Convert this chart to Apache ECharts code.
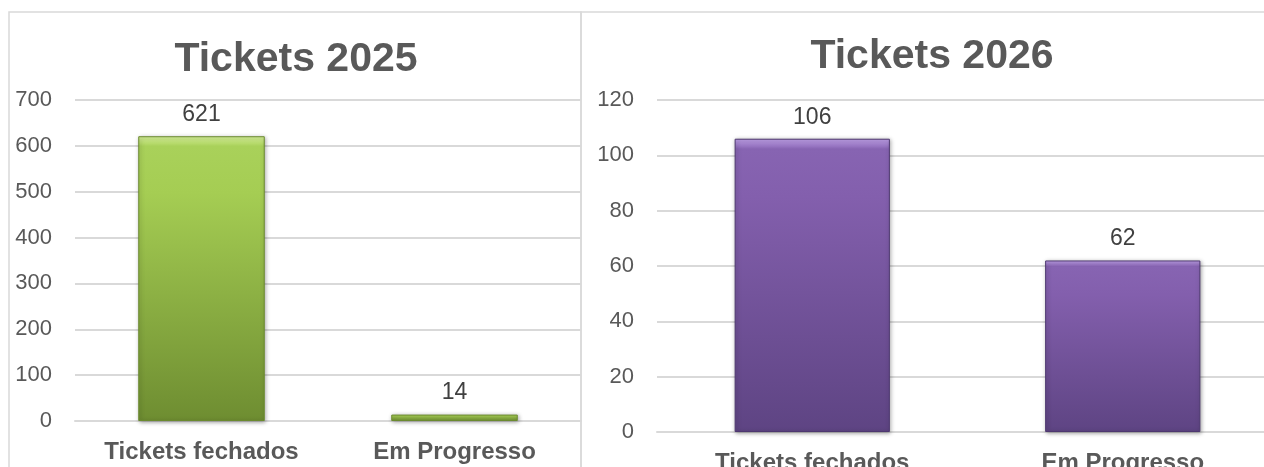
<!DOCTYPE html>
<html>
<head>
<meta charset="utf-8">
<script src="https://cdn.jsdelivr.net/npm/echarts@6/dist/echarts.min.js"></script>
<style>
  html, body { margin: 0; padding: 0; background: #ffffff; }
  #chart { width: 1264px; height: 467px; }
</style>
</head>
<body>
<div id="chart"></div>
<script>
const categories = ['Tickets fechados', 'Em Progresso'];
const values2025 = [621, 14];
const values2026 = [106, 62];
const titles = ['Tickets 2025', 'Tickets 2026'];
const ticks2025 = { min: 0, max: 700, interval: 100 };
const ticks2026 = { min: 0, max: 120, interval: 20 };

const FONT = '"Liberation Sans", Arial, sans-serif';
const TEXT = '#595959';
const GRID = '#d9d9d9';

const green = new echarts.graphic.LinearGradient(0, 0, 0, 1, [
  { offset: 0, color: '#d8f29a' },
  { offset: 0.035, color: '#a9d15a' },
  { offset: 0.2, color: '#a5cd53' },
  { offset: 1, color: '#6e8d31' }
]);
const purple = new echarts.graphic.LinearGradient(0, 0, 0, 1, [
  { offset: 0, color: '#c2a3ec' },
  { offset: 0.035, color: '#8764b2' },
  { offset: 0.2, color: '#835fad' },
  { offset: 1, color: '#5e4483' }
]);

function yAxis(gi, t) {
  return {
    type: 'value', gridIndex: gi, min: t.min, max: t.max, interval: t.interval,
    axisLine: { show: false }, axisTick: { show: false },
    axisLabel: { color: TEXT, fontFamily: FONT, fontSize: 22, margin: 23 },
    splitLine: { lineStyle: { color: GRID, width: 2 } }
  };
}
function xAxis(gi) {
  return {
    type: 'category', gridIndex: gi, data: categories,
    axisLine: { show: true, lineStyle: { color: GRID, width: 2 } },
    axisTick: { show: false },
    axisLabel: { color: TEXT, fontFamily: FONT, fontSize: 24, fontWeight: 'bold', margin: 19, interval: 0 }
  };
}
function barSeries(gi, data, fill, border) {
  return {
    type: 'bar', xAxisIndex: gi, yAxisIndex: gi, data: data, barWidth: '50%',
    itemStyle: {
      color: fill, borderColor: border, borderWidth: 1,
      shadowColor: 'rgba(0,0,0,0.35)', shadowBlur: 4, shadowOffsetX: 1, shadowOffsetY: 1
    },
    label: { show: true, position: 'top', distance: 10, color: '#404040', fontFamily: FONT, fontSize: 23 }
  };
}

const chart = echarts.init(document.getElementById('chart'), null, { renderer: 'canvas' });
chart.setOption({
  animation: false,
  backgroundColor: '#ffffff',
  title: [
    { text: titles[0], left: 291, top: 34, textAlign: 'center',
      textStyle: { color: TEXT, fontFamily: FONT, fontSize: 41, fontWeight: 'bold' } },
    { text: titles[1], left: 927, top: 31, textAlign: 'center',
      textStyle: { color: TEXT, fontFamily: FONT, fontSize: 41, fontWeight: 'bold' } }
  ],
  graphic: [
    { type: 'rect', shape: { x: 9, y: 12, width: 572, height: 480 },
      style: { fill: 'none', stroke: GRID, lineWidth: 1.5 }, z: -1 },
    { type: 'rect', shape: { x: 581, y: 12, width: 720, height: 480 },
      style: { fill: 'none', stroke: GRID, lineWidth: 1.5 }, z: -1 }
  ],
  grid: [
    { left: 75, top: 100, width: 506, height: 321, outerBoundsMode: 'none', containLabel: false },
    { left: 657, top: 100, width: 621, height: 332, outerBoundsMode: 'none', containLabel: false }
  ],
  xAxis: [xAxis(0), xAxis(1)],
  yAxis: [yAxis(0, ticks2025), yAxis(1, ticks2026)],
  series: [
    barSeries(0, values2025, green, '#6b8a2f'),
    barSeries(1, values2026, purple, '#4e3870')
  ]
});
</script>
</body>
</html>
